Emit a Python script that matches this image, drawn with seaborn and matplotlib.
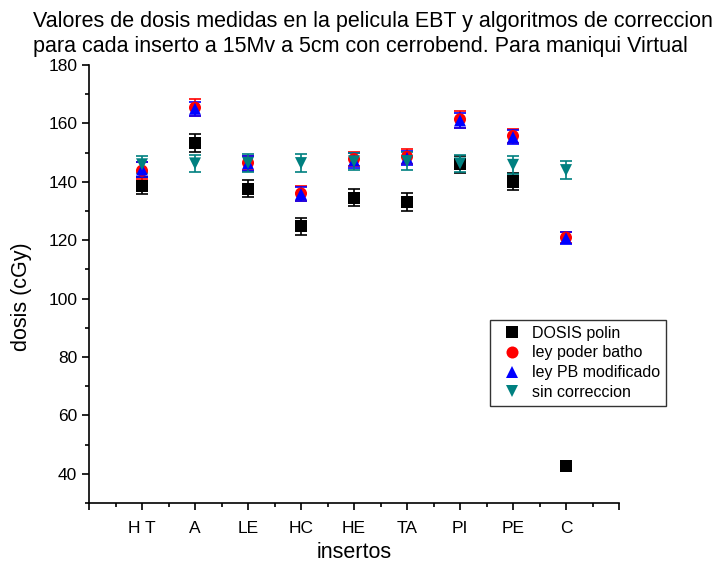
import numpy as np
import pandas as pd
import matplotlib
matplotlib.use("Agg")
import matplotlib.pyplot as plt
from matplotlib.ticker import MultipleLocator, FixedLocator
import seaborn as sns

categories = ["H T", "A", "LE", "HC", "HE", "TA", "PI", "PE", "C"]
dosis_polin = [138.7, 153.2, 137.7, 124.7, 134.6, 133.0, 146.0, 140.1, 42.7]
ley_poder_batho = [143.8, 165.4, 146.5, 136.0, 147.8, 148.6, 161.4, 155.7, 120.9]
ley_pb_modificado = [144.2, 165.0, 146.3, 135.8, 147.3, 148.2, 161.0, 155.3, 120.7]
sin_correccion = [146.0, 146.3, 146.5, 146.4, 147.0, 147.1, 146.3, 145.8, 144.0]
err_polin = [3.0, 3.0, 3.0, 3.0, 3.0, 3.0, 3.0, 3.0, 0.0]
err_batho = [3.0, 3.0, 2.5, 2.5, 2.5, 2.5, 3.0, 2.5, 2.0]
err_pb = [2.5, 2.5, 2.5, 2.5, 2.5, 2.5, 2.5, 2.5, 2.0]
err_sin = [3.0, 3.0, 3.0, 3.0, 3.0, 3.0, 3.0, 3.0, 3.0]

series_names = ["DOSIS polin", "ley poder batho", "ley PB modificado", "sin correccion"]
series_vals = [dosis_polin, ley_poder_batho, ley_pb_modificado, sin_correccion]
series_errs = [err_polin, err_batho, err_pb, err_sin]
colors = ["#000000", "#FF0000", "#0000FF", "#008080"]
markers = ["s", "o", "^", "v"]

title_lines = ["Valores de dosis medidas en la pelicula EBT y algoritmos de correccion",
               "para cada inserto a 15Mv a 5cm con cerrobend. Para maniqui Virtual"]

rows = []
for name, vals, errs in zip(series_names, series_vals, series_errs):
    for i, (v, e) in enumerate(zip(vals, errs)):
        rows.append({"pos": i + 1, "dosis": v, "err": e, "serie": name})
df = pd.DataFrame(rows)

sns.set_style("ticks")
plt.rcParams["font.family"] = ["Liberation Sans", "DejaVu Sans"]
plt.rcParams["text.color"] = "black"
plt.rcParams["axes.labelcolor"] = "black"
plt.rcParams["xtick.color"] = "black"
plt.rcParams["ytick.color"] = "black"

fig = plt.figure(figsize=(7.16, 5.65), dpi=100)
ax = fig.add_axes([89 / 716, 1 - 503 / 565, (619 - 89) / 716, (503 - 65) / 565])

for name, col in zip(series_names, colors):
    sub = df[df["serie"] == name]
    ax.errorbar(sub["pos"], sub["dosis"], yerr=sub["err"], fmt="none",
                ecolor=col, elinewidth=1.2, capsize=4, capthick=1.2, zorder=2)

sns.scatterplot(data=df, x="pos", y="dosis", hue="serie", style="serie",
                palette=dict(zip(series_names, colors)),
                markers=dict(zip(series_names, markers)),
                s=75, edgecolor="none", linewidth=0, ax=ax, zorder=3)

ax.set_xlim(0, 10)
ax.set_ylim(30, 180)
ax.xaxis.set_major_locator(FixedLocator(range(0, 11)))
ax.set_xticklabels([""] + categories + [""])
ax.xaxis.set_minor_locator(MultipleLocator(0.5))
ax.yaxis.set_major_locator(FixedLocator(range(40, 181, 20)))
ax.yaxis.set_minor_locator(MultipleLocator(10))
ax.tick_params(axis="both", which="major", direction="out", length=5, width=1.2,
               labelsize=12.5, colors="black")
ax.tick_params(axis="both", which="minor", direction="out", length=3, width=1.2,
               colors="black")
ax.tick_params(axis="x", pad=8)
for s in ["top", "right"]:
    ax.spines[s].set_visible(False)
for s in ["left", "bottom"]:
    ax.spines[s].set_linewidth(1.2)
    ax.spines[s].set_color("black")

ax.set_xlabel("insertos", fontsize=15.5, va="center", color="black")
ax.set_ylabel("dosis (cGy)", fontsize=15.5, va="center", color="black")
ax.xaxis.set_label_coords(0.5, -(552 - 503) / 438)
ax.yaxis.set_label_coords((22 - 89) / 530, (503 - 297) / 438)

fig.text(33 / 716, 1 - 27 / 565, title_lines[0], ha="left", va="baseline",
         fontsize=15.5, color="black")
fig.text(33 / 716, 1 - 52 / 565, title_lines[1], ha="left", va="baseline",
         fontsize=15.5, color="black")

leg = ax.legend(loc="upper left", bbox_to_anchor=(490 / 716, 1 - 320 / 565),
                bbox_transform=fig.transFigure, frameon=True, fancybox=False,
                edgecolor="black", fontsize=11.5, title=None, handletextpad=0.3,
                borderpad=0.35, labelspacing=0.3, markerscale=1.0,
                borderaxespad=0, labelcolor="black")
leg.get_frame().set_linewidth(1.0)

fig.savefig("out.png", dpi=100)
